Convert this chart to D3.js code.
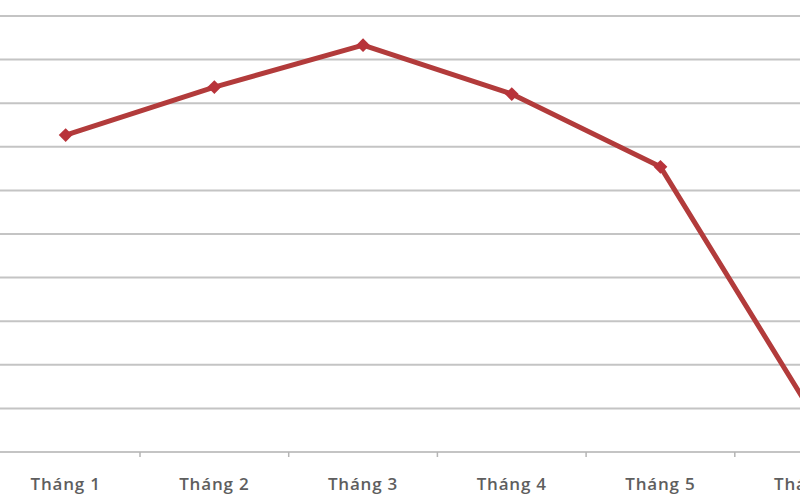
<!DOCTYPE html>
<html>
<head>
  <script src="https://d3js.org/d3.v7.min.js"></script>
  <style>
    body { margin: 0; background: #fff; }
    .grid line { stroke: #c4c4c4; stroke-width: 2; }
    .xlabel { font: 600 17px "Open Sans", sans-serif; fill: #5e5e5e; letter-spacing: 0.8px; }
  </style>
</head>
<body>
  <div id="chart"></div>
  <script>
    const months = ["Tháng 1", "Tháng 2", "Tháng 3", "Tháng 4", "Tháng 5", "Tháng 6"];
    const values = [7.27, 8.37, 9.33, 8.21, 6.54, 1.0];
    const yTicks = [0, 1, 2, 3, 4, 5, 6, 7, 8, 9, 10];

    const width = 800, height = 500;

    const svg = d3.select("#chart")
      .append("svg")
        .attr("width", width)
        .attr("height", height);

    // chart is cropped on the left/right, so the band range runs past the edges
    const x = d3.scaleBand()
      .domain(months)
      .range([-8.7, 883.5]);

    const y = d3.scaleLinear()
      .domain([0, 10])
      .range([452, 16]);

    // horizontal gridlines
    svg.append("g")
      .attr("class", "grid")
      .selectAll("line")
      .data(yTicks)
      .enter().append("line")
        .attr("x1", 0)
        .attr("x2", width)
        .attr("y1", d => y(d))
        .attr("y2", d => y(d));

    // category tick marks on the axis
    svg.append("g")
      .selectAll("line")
      .data(months)
      .enter().append("line")
        .attr("x1", d => x(d))
        .attr("x2", d => x(d))
        .attr("y1", y(0))
        .attr("y2", y(0) + 5)
        .attr("stroke", "#b5b5b5")
        .attr("stroke-width", 1.5);

    // month labels
    svg.append("g")
      .selectAll("text")
      .data(months)
      .enter().append("text")
        .attr("class", "xlabel")
        .attr("text-anchor", "middle")
        .attr("x", d => x(d) + x.bandwidth() / 2)
        .attr("y", 490)
        .text(d => d);

    const data = months.map((m, i) => ({ month: m, value: values[i] }));

    const line = d3.line()
      .x(d => x(d.month) + x.bandwidth() / 2)
      .y(d => y(d.value));

    svg.append("path")
      .datum(data)
      .attr("fill", "none")
      .attr("stroke", "#b23b3b")
      .attr("stroke-width", 5)
      .attr("stroke-linejoin", "round")
      .attr("d", line);

    // diamond markers (square turned 45 degrees)
    svg.append("g")
      .selectAll("path")
      .data(data)
      .enter().append("path")
        .attr("transform", d => `translate(${x(d.month) + x.bandwidth() / 2},${y(d.value)}) rotate(45)`)
        .attr("d", d3.symbol().type(d3.symbolSquare).size(95))
        .attr("fill", "#b8333a");
  </script>
</body>
</html>
